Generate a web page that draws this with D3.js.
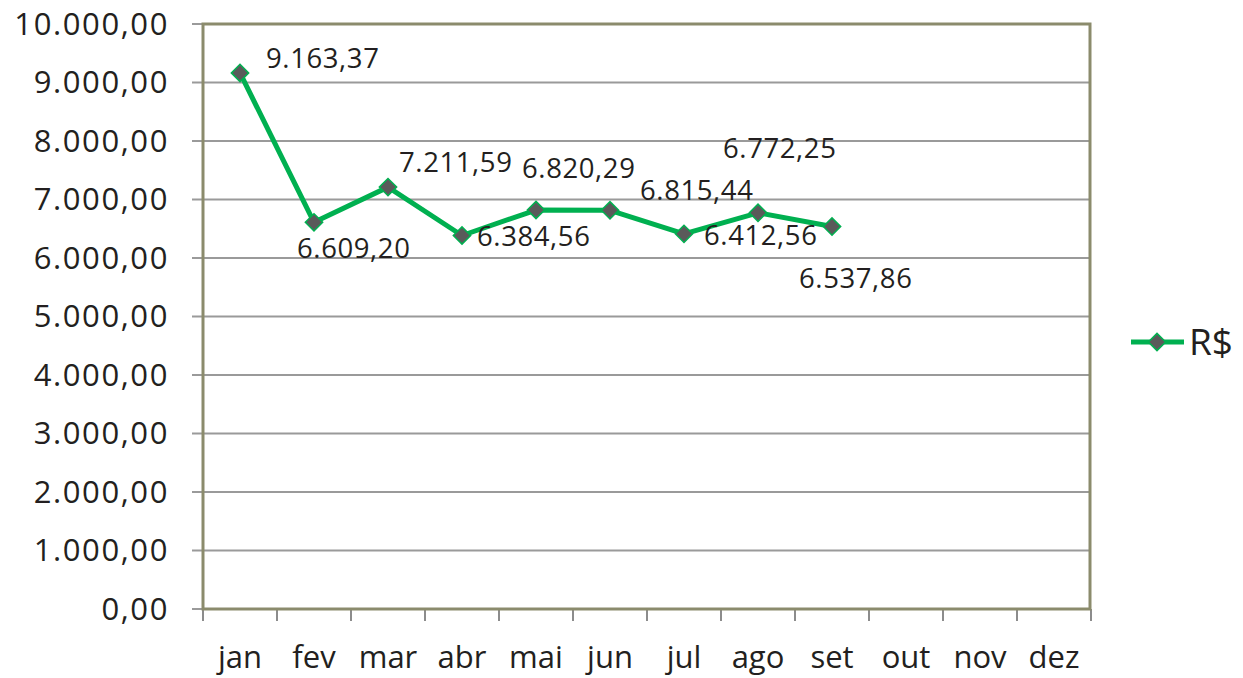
<!DOCTYPE html>
<html><head><meta charset="utf-8">
<script src="https://cdn.jsdelivr.net/npm/d3@7"></script>
<style>
html,body{margin:0;padding:0;background:#fff;}
svg text{font-family:"Open Sans",sans-serif;fill:#231F20;}
</style></head>
<body><svg id="c" width="1243" height="678"></svg>
<script>
const months = ["jan","fev","mar","abr","mai","jun","jul","ago","set","out","nov","dez"];
const values = [9163.37,6609.20,7211.59,6384.56,6820.29,6815.44,6412.56,6772.25,6537.86,null,null,null];
const valueLabels = ["9.163,37","6.609,20","7.211,59","6.384,56","6.820,29","6.815,44","6.412,56","6.772,25","6.537,86"];
const yTicks = [0,1000,2000,3000,4000,5000,6000,7000,8000,9000,10000];
const yTickLabels = ["0,00","1.000,00","2.000,00","3.000,00","4.000,00","5.000,00","6.000,00","7.000,00","8.000,00","9.000,00","10.000,00"];
const seriesName = "R$";
// label offsets (styling) relative to each point
const labelDx = [26,-17,11,15,-14,30,20,-35,-33];
const labelDy = [-5,36,-15,10,-32,-10,11,-55,61];

const svg = d3.select("#c");
const L=203, R=1091, T=24, B=609;
const x = d3.scaleBand().domain(months).range([L,R]).padding(0);
const y = d3.scaleLinear().domain([0,10000]).range([B,T]);

// gridlines
svg.append("g").selectAll("line").data(yTicks).join("line")
  .attr("x1",192).attr("x2",R).attr("y1",d=>y(d)).attr("y2",d=>y(d))
  .attr("stroke","#9a9a9a").attr("stroke-width",2);

// y tick labels
svg.append("g").selectAll("text").data(yTicks).join("text")
  .attr("x",169).attr("y",d=>y(d)).attr("dy","0.35em").attr("text-anchor","end")
  .attr("font-size",31).attr("letter-spacing",1.6).text((d,i)=>yTickLabels[i]);

// x tick marks
const bounds = months.map(m=>x(m)).concat([R]);
svg.append("g").selectAll("line").data(bounds).join("line")
  .attr("x1",d=>d).attr("x2",d=>d).attr("y1",B).attr("y2",621)
  .attr("stroke","#8c8c8c").attr("stroke-width",2);

// x labels
svg.append("g").selectAll("text").data(months).join("text")
  .attr("x",d=>x(d)+x.bandwidth()/2).attr("y",668).attr("text-anchor","middle")
  .attr("font-size",31).text(d=>d);

// plot border
svg.append("rect").attr("x",L).attr("y",T).attr("width",R-L-1).attr("height",B-T)
  .attr("fill","none").attr("stroke","#8b8b6c").attr("stroke-width",3);

// line
const pts = months.map((m,i)=>({m,v:values[i],i})).filter(d=>d.v!=null);
svg.append("path").datum(pts)
  .attr("d",d3.line().x(d=>x(d.m)+x.bandwidth()/2).y(d=>y(d.v)))
  .attr("fill","none").attr("stroke","#00b050").attr("stroke-width",5).attr("stroke-linejoin","round");

const diamond = d3.symbol().type(d3.symbolSquare).size(150);
svg.append("g").selectAll("path").data(pts).join("path")
  .attr("d",diamond())
  .attr("transform",d=>`translate(${x(d.m)+x.bandwidth()/2},${y(d.v)}) rotate(45)`)
  .attr("fill","#5a5a5a").attr("stroke","#00b050").attr("stroke-width",1.5);

// data labels
svg.append("g").selectAll("text").data(pts).join("text")
  .attr("x",d=>x(d.m)+x.bandwidth()/2+labelDx[d.i])
  .attr("y",d=>y(d.v)+labelDy[d.i])
  .attr("font-size",27.5).attr("letter-spacing",0.6).text(d=>valueLabels[d.i]);

// legend
const lg = svg.append("g");
lg.append("line").attr("x1",1131).attr("x2",1184).attr("y1",342).attr("y2",342)
  .attr("stroke","#00b050").attr("stroke-width",5);
lg.append("path").attr("d",diamond()).attr("transform","translate(1157,342) rotate(45)")
  .attr("fill","#5a5a5a").attr("stroke","#00b050").attr("stroke-width",1.5);
lg.append("text").attr("x",1189).attr("y",342).attr("dy","0.36em").attr("font-size",37).text(seriesName);
</script></body></html>
